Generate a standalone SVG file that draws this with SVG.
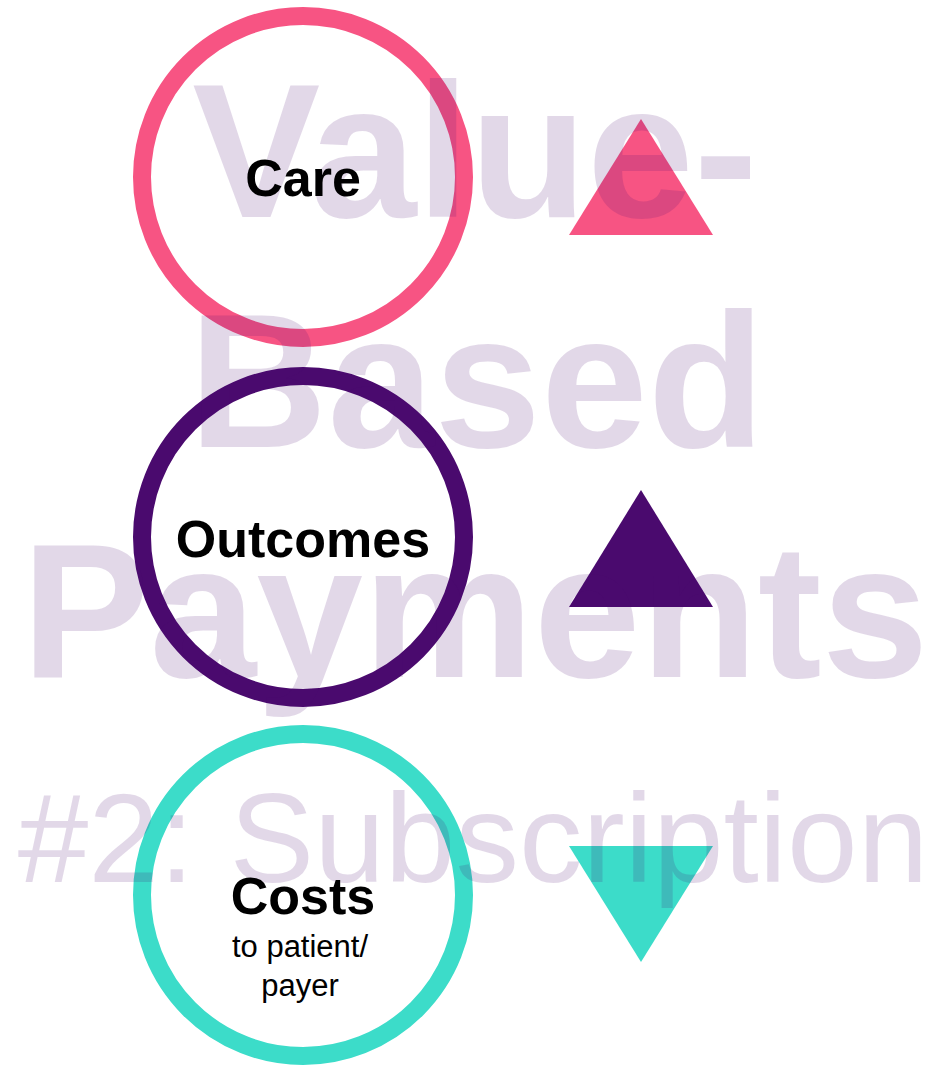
<svg xmlns="http://www.w3.org/2000/svg" width="931" height="1066" viewBox="0 0 931 1066">
<style>
.ring{fill:none;stroke-width:18}
.lbl{font-family:"Liberation Sans",Arial,sans-serif;font-weight:bold;font-size:52px;fill:#000;text-anchor:middle}
.sub{font-family:"Liberation Sans",Arial,sans-serif;font-size:31px;fill:#000;text-anchor:middle}
.wm{font-family:"Liberation Sans",Arial,sans-serif;fill:#4B0A6E;fill-opacity:0.16;text-anchor:middle}
</style>
<rect width="931" height="1066" fill="#fff"/>
<g id="care">
<circle class="ring" cx="303" cy="177" r="161" stroke="#F75483"/>
<polygon points="641,119 713,235 569,235" fill="#F75483"/>
</g>
<g id="outcomes">
<circle class="ring" cx="303" cy="537" r="161" stroke="#4A0A6E"/>
<polygon points="641,490 713,607 569,607" fill="#4A0A6E"/>
</g>
<g id="costs">
<circle class="ring" cx="303" cy="895" r="161" stroke="#3CDCC9"/>
<polygon points="569,846 713,846 641,962" fill="#3CDCC9"/>
</g>
<g id="watermark">
<text class="wm" x="475" y="217" font-size="192" font-weight="bold">Value-</text>
<text class="wm" x="477" y="447" font-size="192" font-weight="bold">Based</text>
<text class="wm" x="475" y="677" font-size="192" font-weight="bold">Payments</text>
<text class="wm" x="473" y="882" font-size="127">#2: Subscription</text>
</g>
<g id="labels">
<text class="lbl" x="303" y="196">Care</text>
<text class="lbl" x="303" y="557">Outcomes</text>
<text class="lbl" x="303" y="914">Costs</text>
<text class="sub" x="300" y="957">to patient/</text>
<text class="sub" x="300" y="996">payer</text>
</g>
<g id="connectors"/>
</svg>
